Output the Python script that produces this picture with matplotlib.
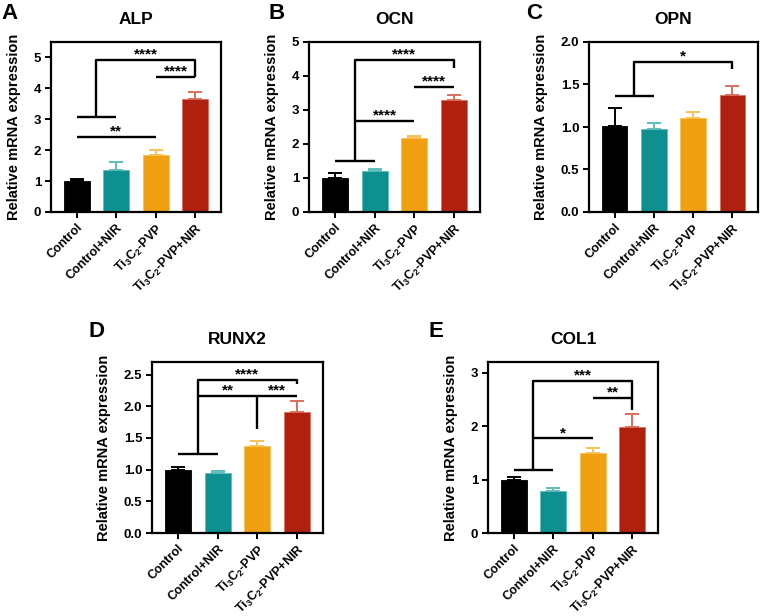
import matplotlib
matplotlib.use("Agg")
import matplotlib.pyplot as plt
import numpy as np

plt.rcParams['font.family'] = ['Liberation Sans', 'DejaVu Sans']
plt.rcParams['font.weight'] = 'bold'
plt.rcParams['mathtext.fontset'] = 'custom'
plt.rcParams['mathtext.rm'] = 'Liberation Sans'
plt.rcParams['mathtext.default'] = 'rm'

# groups
cats = ["Control", "Control+NIR", r"Ti$_3$C$_2$-PVP", r"Ti$_3$C$_2$-PVP+NIR"]
colors = ["#000000", "#0E9090", "#F0A010", "#B0200F"]
err_colors = ["#000000", "#5EBDBD", "#F6C25A", "#D9705F"]

# mean and SD
alp_mean = [1.00, 1.35, 1.83, 3.65]
alp_err = [0.08, 0.28, 0.19, 0.22]
ocn_mean = [1.00, 1.22, 2.17, 3.28]
ocn_err = [0.14, 0.03, 0.07, 0.17]
opn_mean = [1.01, 0.98, 1.11, 1.38]
opn_err = [0.21, 0.07, 0.07, 0.10]
runx2_mean = [1.00, 0.94, 1.38, 1.91]
runx2_err = [0.05, 0.04, 0.08, 0.17]
col1_mean = [1.00, 0.78, 1.49, 1.98]
col1_err = [0.04, 0.07, 0.11, 0.24]

# significance marks: (group x's, y's, label)
alp_sig = [([0, 1], [3.06, 3.06], ""),
           ([0.5, 0.5, 3, 3], [3.06, 4.92, 4.92, 4.36], "****"),
           ([2, 3], [4.36, 4.36], "****"),
           ([0, 2], [2.43, 2.43], "**")]
ocn_sig = [([0, 1], [1.49, 1.49], ""),
           ([0.5, 0.5, 3, 3], [1.49, 4.47, 4.47, 4.23], "****"),
           ([0.5, 2], [2.69, 2.69], "****"),
           ([2, 3], [3.67, 3.67], "****")]
opn_sig = [([0, 1], [1.36, 1.36], ""),
           ([0.5, 0.5, 3, 3], [1.36, 1.77, 1.77, 1.68], "*")]
runx2_sig = [([0, 1], [1.245, 1.245], ""),
             ([0.5, 0.5, 3, 3], [1.245, 2.42, 2.42, 2.35], "****"),
             ([0.5, 2], [2.16, 2.16], "**"),
             ([2, 3], [2.16, 2.16], "***"),
             ([2, 2], [2.16, 1.64], "")]
col1_sig = [([0, 1], [1.18, 1.18], ""),
            ([0.5, 0.5, 3, 3], [1.18, 2.84, 2.84, 2.31], "***"),
            ([2, 3], [2.52, 2.52], "**"),
            ([0.5, 2], [1.77, 1.77], "*")]

panels = [
    ("A", "ALP", alp_mean, alp_err, alp_sig, 5.5, [0, 1, 2, 3, 4, 5], "%d"),
    ("B", "OCN", ocn_mean, ocn_err, ocn_sig, 5.0, [0, 1, 2, 3, 4, 5], "%d"),
    ("C", "OPN", opn_mean, opn_err, opn_sig, 2.0, [0, 0.5, 1.0, 1.5, 2.0], "%.1f"),
    ("D", "RUNX2", runx2_mean, runx2_err, runx2_sig, 2.7, [0, 0.5, 1.0, 1.5, 2.0, 2.5], "%.1f"),
    ("E", "COL1", col1_mean, col1_err, col1_sig, 3.2, [0, 1, 2, 3], "%d"),
]

W, H = 762, 616
# axes boxes in pixels (left, top, right, bottom)
boxes = [(51, 42, 221, 212), (309, 42, 480, 212), (589, 42, 758, 212),
         (152, 362, 323, 533), (488, 362, 658, 533)]
letter_pos = [(1, 3), (268, 3), (526, 3), (88, 321), (429, 321)]

fig = plt.figure(figsize=(W / 100, H / 100), dpi=100)

for (letter, title, mean, err, sig, ytop, yt, fmt), (l, t, r, b), (lx, ly) in zip(panels, boxes, letter_pos):
    ax = fig.add_axes([l / W, 1 - b / H, (r - l) / W, (b - t) / H])
    x = np.arange(len(cats))
    for i in range(len(cats)):
        ax.errorbar(x[i], mean[i], yerr=[[0], [err[i]]], fmt='none',
                    ecolor=err_colors[i], elinewidth=1.4, capsize=4.8, capthick=1.4, zorder=1)
    ax.bar(x, mean, width=0.65, color=colors, edgecolor=err_colors, linewidth=0.6, zorder=2)

    for xs, ys, lab in sig:
        ax.plot(xs, ys, color='black', lw=1.7, solid_capstyle='butt', zorder=3)
        if lab:
            top = max(ys)
            xt = [xx for xx, yy in zip(xs, ys) if yy == top]
            ax.annotate(lab, xy=((min(xt) + max(xt)) / 2, top), xytext=(0, 1.0),
                        textcoords='offset points', ha='center', va='baseline',
                        fontsize=11, fontweight='bold')

    ax.set_xlim(-0.65, 3.65)
    ax.set_ylim(0, ytop)
    ax.set_yticks(yt)
    ax.set_yticklabels([fmt % v for v in yt])
    ax.set_xticks(x)
    ax.set_xticklabels(cats, rotation=45, ha='right', rotation_mode='anchor')
    ax.tick_params(axis='both', direction='out', length=4.5, width=1.4, pad=2.5)
    ax.tick_params(axis='y', labelsize=9.5)
    ax.tick_params(axis='x', labelsize=9)
    for s in ax.spines.values():
        s.set_linewidth(1.6)
    ax.set_ylabel("Relative mRNA expression", fontsize=10.5, fontweight='bold', labelpad=9)
    ax.set_title(title, fontsize=12.5, fontweight='bold', pad=13)
    fig.text(lx / W, 1 - ly / H, letter, fontsize=16, fontweight='bold', ha='left', va='top')

fig.savefig("out.png", dpi=100)
